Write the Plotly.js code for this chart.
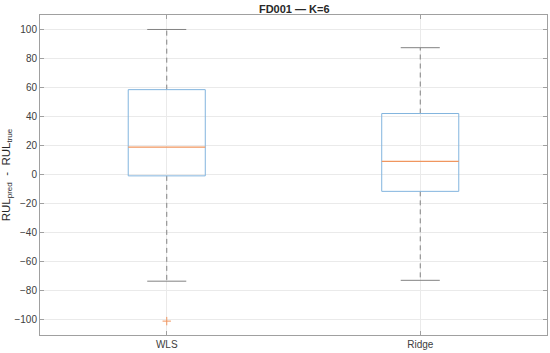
<!DOCTYPE html>
<html>
<head>
<meta charset="utf-8">
<script src="https://cdn.plot.ly/plotly-3.0.1.min.js"></script>
<style>html,body{margin:0;padding:0;background:#fff;}#chart{width:550px;height:353px;}</style>
</head>
<body>
<div id="chart"></div>
<script>
// Data
const categories = ['WLS', 'Ridge'];
const lowerWhisker = [-73.8, -73.2];
const q1Values = [-1.0, -11.7];
const medianValues = [18.8, 9.0];
const q3Values = [58.6, 42.1];
const upperWhisker = [100.2, 87.6];
const outlierCategory = ['WLS'];
const outlierValues = [-101.4];
const yTickVals = [-100, -80, -60, -40, -20, 0, 20, 40, 60, 80, 100];

const boxHalf = 0.152;
const capHalf = 0.077;
const boxColor = 'rgb(130,180,222)';
const medColor = 'rgb(240,150,95)';
const whiskColor = 'rgb(130,130,130)';

const traces = [];
categories.forEach((c, i) => {
  const x = i + 1;
  traces.push({x: [x, x, null, x, x], y: [q3Values[i], upperWhisker[i], null, q1Values[i], lowerWhisker[i]],
    mode: 'lines', line: {color: whiskColor, width: 1, dash: '5px,4px'}, hoverinfo: 'skip', showlegend: false});
  traces.push({x: [x - capHalf, x + capHalf, null, x - capHalf, x + capHalf],
    y: [upperWhisker[i], upperWhisker[i], null, lowerWhisker[i], lowerWhisker[i]],
    mode: 'lines', line: {color: whiskColor, width: 1}, hoverinfo: 'skip', showlegend: false});
  traces.push({x: [x - boxHalf, x + boxHalf, x + boxHalf, x - boxHalf, x - boxHalf],
    y: [q1Values[i], q1Values[i], q3Values[i], q3Values[i], q1Values[i]],
    mode: 'lines', line: {color: boxColor, width: 1}, hoverinfo: 'skip', showlegend: false});
  traces.push({x: [x - boxHalf, x + boxHalf], y: [medianValues[i], medianValues[i]],
    mode: 'lines', line: {color: medColor, width: 1.2}, hoverinfo: 'skip', showlegend: false});
});
traces.push({x: outlierCategory.map(c => categories.indexOf(c) + 1), y: outlierValues, mode: 'markers',
  marker: {symbol: 'cross-thin-open', size: 6, line: {color: medColor, width: 1}, color: medColor},
  showlegend: false, hoverinfo: 'skip'});

const axisCommon = {
  showline: true, linecolor: 'rgb(160,160,160)', linewidth: 1, mirror: 'ticks',
  ticks: 'inside', ticklen: 4, tickcolor: 'rgb(160,160,160)',
  showgrid: true, gridcolor: 'rgb(234,234,234)', gridwidth: 1, zeroline: false,
  tickfont: {family: 'Liberation Sans, Arial, sans-serif', size: 10, color: 'rgb(64,64,64)'}
};

const layout = {
  width: 550, height: 353,
  margin: {l: 40, r: 3, t: 15, b: 18},
  paper_bgcolor: '#fff', plot_bgcolor: '#fff',
  title: {text: '<b>FD001 — K=6</b>', x: 0.535, xanchor: 'center', y: 0.985, yanchor: 'top',
    font: {family: 'Liberation Sans, Arial, sans-serif', size: 11, color: 'rgb(40,40,40)'}},
  xaxis: Object.assign({}, axisCommon, {range: [0.5, 2.5], tickvals: [1, 2], ticktext: categories}),
  yaxis: Object.assign({}, axisCommon, {range: [-111, 110.2], tickvals: yTickVals,
    title: {text: 'RUL<sub>pred</sub>  -  RUL<sub>true</sub>', standoff: 2,
      font: {family: 'Liberation Sans, Arial, sans-serif', size: 11.5, color: 'rgb(40,40,40)'}}}),
  font: {family: 'Liberation Sans, Arial, sans-serif'}
};

Plotly.newPlot('chart', traces, layout, {displayModeBar: false, staticPlot: true});
</script>
</body>
</html>
